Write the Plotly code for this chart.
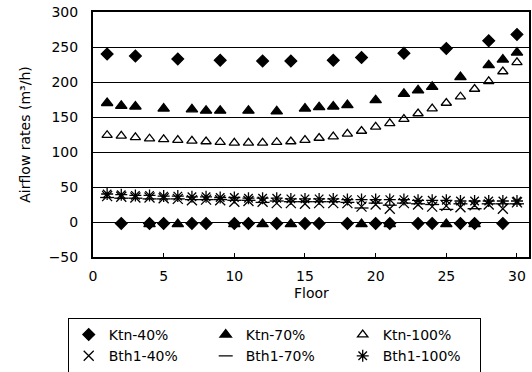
import plotly.graph_objects as go

floors = list(range(1, 31))

# Ktn-40%: value per floor (floors not operating are near zero)
ktn40 = [240, -2, 237, -2, -2, 233, -2, -2, 231, -2, -2, 230, -2, 230, -2,
         -2, 231, -2, 235, -2, -2, 241, -2, -2, 248, -2, -2, 259, -2, 268]
ktn70 = [170, 166, 165, -3, 162, -3, 161, 159, 159, -3, 159, -3, 158, -3, 162,
         164, 165, 167, -3, 174, -3, 183, 188, 193, -3, 207, -3, 224, 232, 242]
ktn100 = [124, 123, 121, 119, 118, 117, 116, 115, 114, 113, 113, 113, 114, 115, 117,
          120, 122, 126, 130, 136, 141, 147, 155, 162, 170, 179, 190, 201, 215, 228]
bth40 = [37, 36, 35, 35, 34, 33, 31, 32, 31, 29, 30, 29, 27, 27, 26,
         27, 27, 27, 22, 25, 19, 27, 25, 22, 23, 21, 24, 25, 19, 28]
bth70 = [35, 34, 34, 33, 33, 33, 32, 32, 32, 31, 31, 28, 30, 29, 29,
         29, 29, 28, 20, 27, 24, 27, 26, 25, 18, 26, 19, 26, 26, 26]
bth100 = [40, 39, 38, 38, 37, 37, 36, 36, 35, 35, 34, 34, 34, 33, 33,
          33, 33, 32, 32, 32, 32, 32, 31, 31, 31, 30, 30, 30, 30, 30]

series = [
    ("Ktn-40%", ktn40, "diamond", 9),
    ("Ktn-70%", ktn70, "triangle-up", 10),
    ("Ktn-100%", ktn100, "triangle-up-open", 9),
    ("Bth1-40%", bth40, "x-thin-open", 10),
    ("Bth1-70%", bth70, "line-ew-open", 10),
    ("Bth1-100%", bth100, "asterisk-open", 10),
]

fig = go.Figure()
for name, vals, sym, size in series:
    fig.add_trace(go.Scatter(
        x=floors, y=vals, mode="markers", name=name,
        marker=dict(symbol=sym, size=size, color="black",
                    line=dict(color="black", width=1.3)),
    ))

font = dict(family="DejaVu Sans, Liberation Sans, Arial, sans-serif", size=14, color="black")

fig.update_layout(
    width=532, height=372,
    margin=dict(l=93, r=3, t=12, b=115, autoexpand=False),
    paper_bgcolor="white", plot_bgcolor="white",
    font=font,
    showlegend=True,
    legend=dict(
        orientation="h", x=-0.058, xanchor="left", y=-0.249, yanchor="top",
        entrywidth=92, entrywidthmode="pixels",
        bordercolor="black", borderwidth=1, bgcolor="white",
        font=font, itemwidth=30, tracegroupgap=0,
    ),
    annotations=[dict(text="Floor", x=0.5, y=-0.147, xref="paper", yref="paper",
                      xanchor="center", yanchor="middle", showarrow=False, font=font)],
)
fig.update_xaxes(
    range=[0, 30.85], tickvals=[0, 5, 10, 15, 20, 25, 30],
    showgrid=False, zeroline=False, showline=True, linecolor="black", linewidth=2,
    mirror=True, ticks="inside", ticklen=4, tickcolor="black",
    automargin=False, ticklabelstandoff=5, tickfont=font,
)
fig.update_yaxes(
    range=[-50, 300], tickvals=[-50, 0, 50, 100, 150, 200, 250, 300],
    showgrid=True, gridcolor="black", gridwidth=1, zeroline=False,
    showline=True, linecolor="black", linewidth=2, mirror=True,
    ticks="inside", ticklen=4, tickcolor="black",
    automargin=False, ticklabelstandoff=10,
    title=dict(text="Airflow rates (m³/h)", font=font), tickfont=font,
)

fig.write_html("out.html", config={"displayModeBar": False},
               post_script="document.body.style.margin='0';")
